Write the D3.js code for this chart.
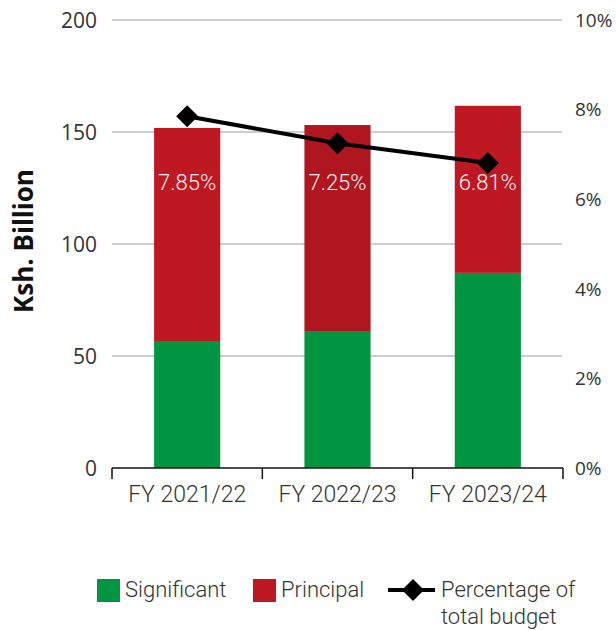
<!DOCTYPE html>
<html>
<head>
<meta charset="utf-8">
<script src="https://cdn.jsdelivr.net/npm/d3@7"></script>
<style>
  html, body { margin: 0; padding: 0; background: #fff; }
  svg { display: block; }
</style>
</head>
<body>
<svg id="chart" width="616" height="630"></svg>
<script>
// Climate-relevant budget by fiscal year (Ksh. Billion) and share of total budget
const categories = ["FY 2021/22", "FY 2022/23", "FY 2023/24"];
const significant = [56.7, 60.8, 87.1];
const principal = [95.1, 92.3, 74.6];
const sharePct = [7.85, 7.25, 6.81];
const shareLabels = ["7.85%", "7.25%", "6.81%"];
const leftTicks = [0, 50, 100, 150, 200];
const rightTicks = [0, 2, 4, 6, 8, 10];

const GREEN = "#009540";
const RED = "#be1823";
const RED_MID = "#b0161f";
const TEXT = "#333333";

const svg = d3.select("#chart");
const plotLeft = 112, plotRight = 563, plotTop = 20, plotBottom = 468;

const x = d3.scaleBand().domain(categories).range([plotLeft, plotRight])
  .paddingInner(0.56).paddingOuter(0.28);
const yL = d3.scaleLinear().domain([0, 200]).range([plotBottom, plotTop]);
const yR = d3.scaleLinear().domain([0, 10]).range([plotBottom, plotTop]);

// horizontal grid lines
svg.append("g").selectAll("line")
  .data(leftTicks.filter(d => d > 0))
  .join("line")
  .attr("x1", plotLeft).attr("x2", plotRight - 1)
  .attr("y1", d => yL(d)).attr("y2", d => yL(d))
  .attr("stroke", "#bdbdbd").attr("stroke-width", 1.5);

// left tick labels
svg.append("g").selectAll("text")
  .data(leftTicks)
  .join("text")
  .attr("x", 97).attr("y", d => yL(d))
  .attr("dy", "0.36em")
  .attr("text-anchor", "end")
  .attr("font-family", "'Open Sans', sans-serif")
  .attr("font-size", 21)
  .attr("fill", TEXT)
  .text(d => d);

// right tick labels
svg.append("g").selectAll("text")
  .data(rightTicks)
  .join("text")
  .attr("x", 575).attr("y", d => yR(d))
  .attr("dy", "0.36em")
  .attr("text-anchor", "start")
  .attr("font-family", "'Open Sans', sans-serif")
  .attr("font-size", 19)
  .attr("fill", TEXT)
  .text(d => d + "%");

// y axis title
svg.append("text")
  .attr("transform", `translate(33,241) rotate(-90)`)
  .attr("text-anchor", "middle")
  .attr("font-family", "'Open Sans', sans-serif")
  .attr("font-weight", 700)
  .attr("font-size", 26)
  .attr("fill", "#111")
  .text("Ksh. Billion");

// stacked bars
const bars = svg.append("g");
categories.forEach((c, i) => {
  bars.append("rect")
    .attr("x", x(c)).attr("width", x.bandwidth())
    .attr("y", yL(significant[i])).attr("height", yL(0) - yL(significant[i]))
    .attr("fill", GREEN);
  const tot = significant[i] + principal[i];
  bars.append("rect")
    .attr("x", x(c)).attr("width", x.bandwidth())
    .attr("y", yL(tot)).attr("height", yL(significant[i]) - yL(tot))
    .attr("fill", i === 1 ? RED_MID : RED);
});

// bottom axis with ticks between categories
const axisG = svg.append("g");
axisG.append("line")
  .attr("x1", plotLeft).attr("x2", plotRight)
  .attr("y1", plotBottom).attr("y2", plotBottom)
  .attr("stroke", "#111").attr("stroke-width", 1.5);
const bounds = [plotLeft].concat(categories.map(c => x(c) - x.step() * x.paddingOuter() + x.step()));
axisG.selectAll("line.tick")
  .data(bounds)
  .join("line")
  .attr("class", "tick")
  .attr("x1", d => d).attr("x2", d => d)
  .attr("y1", plotBottom).attr("y2", plotBottom + 11)
  .attr("stroke", "#111").attr("stroke-width", 1.5);
axisG.selectAll("text")
  .data(categories)
  .join("text")
  .attr("x", d => x(d) + x.bandwidth() / 2)
  .attr("y", 502)
  .attr("text-anchor", "middle")
  .attr("font-family", "Roboto, sans-serif")
  .attr("font-weight", 300)
  .attr("font-size", 23)
  .attr("fill", TEXT)
  .text(d => d);

// share-of-budget labels inside the bars
svg.append("g").selectAll("text")
  .data(categories)
  .join("text")
  .attr("x", d => x(d) + x.bandwidth() / 2)
  .attr("y", 190)
  .attr("text-anchor", "middle")
  .attr("font-family", "Roboto, sans-serif")
  .attr("font-weight", 300)
  .attr("font-size", 22)
  .attr("fill", "#f0f0f0")
  .text((d, i) => shareLabels[i]);

// share line with diamond markers
const pts = categories.map((c, i) => [x(c) + x.bandwidth() / 2, yR(sharePct[i])]);
svg.append("path")
  .attr("d", d3.line()(pts))
  .attr("fill", "none")
  .attr("stroke", "#000")
  .attr("stroke-width", 4);
const diamond = d3.symbol().type(d3.symbolSquare).size(242);
svg.append("g").selectAll("path")
  .data(pts)
  .join("path")
  .attr("d", diamond)
  .attr("transform", d => `translate(${d[0]},${d[1]}) rotate(45)`)
  .attr("fill", "#000");

// legend
const lg = svg.append("g")
  .attr("font-family", "Roboto, sans-serif")
  .attr("font-weight", 300)
  .attr("font-size", 22)
  .attr("fill", TEXT);
lg.append("rect").attr("x", 97).attr("y", 579).attr("width", 23).attr("height", 23).attr("fill", GREEN);
lg.append("text").attr("x", 125).attr("y", 597).text("Significant");
lg.append("rect").attr("x", 253).attr("y", 579).attr("width", 23).attr("height", 23).attr("fill", RED);
lg.append("text").attr("x", 281).attr("y", 597).text("Principal");
lg.append("line").attr("x1", 388).attr("x2", 435).attr("y1", 590).attr("y2", 590)
  .attr("stroke", "#000").attr("stroke-width", 4);
lg.append("path").attr("d", diamond)
  .attr("transform", "translate(413,590) rotate(45)").attr("fill", "#000");
lg.append("text").attr("x", 441).attr("y", 597).text("Percentage of");
lg.append("text").attr("x", 441).attr("y", 624).text("total budget");
</script>
</body>
</html>
